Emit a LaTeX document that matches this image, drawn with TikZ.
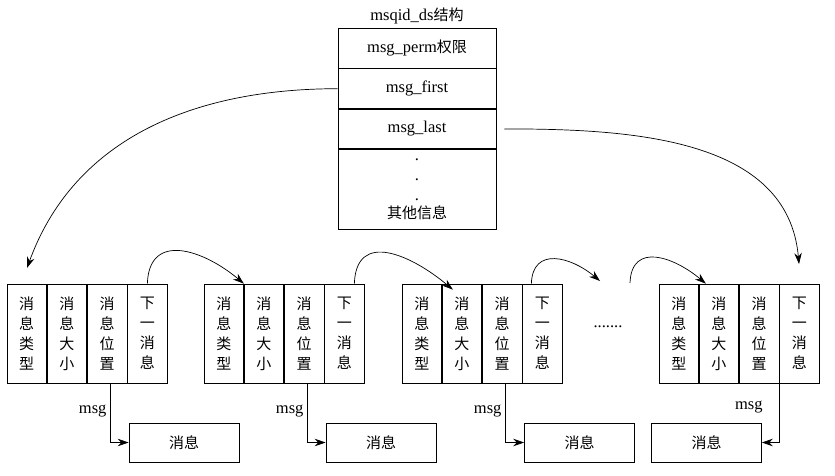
\documentclass[tikz,border=0pt]{standalone}
\usepackage{fontspec}
\setmainfont{Liberation Serif}
\newfontfamily\cjk{Noto Sans CJK SC}
\usetikzlibrary{arrows.meta, positioning}

\begin{document}
\begin{tikzpicture}[
    x=1pt, y=-1pt, line width=0.7pt,
    >={Stealth[length=11pt,width=7.5pt]},
    every node/.style={
      font=\fontsize{16.5}{20}\selectfont
    },
    field/.style={
      draw, minimum width=158pt, inner sep=0pt, align=center
    },
    cell/.style={
      draw, minimum width=39.5pt, minimum height=99pt, inner sep=0pt,
      align=center, font=\cjk\fontsize{15}{20}\selectfont
    },
    msgbox/.style={
      draw, minimum width=110pt, minimum height=39pt,
      font=\cjk\fontsize{15}{20}\selectfont
    },
    hop/.style={
      out=88, in=140, looseness=1.4
    }
    ]
  \useasboundingbox (0,0) rectangle (835,475);

  % msqid_ds
  \node[field, minimum height=40pt] (s1) at (417,48) {msg\_perm{\cjk\fontsize{15}{20}\selectfont 权限}};
  \node[field, minimum height=40pt, below=0pt of s1] (s2) {msg\_first};
  \node[field, minimum height=39pt, below=0pt of s2] (s3) {msg\_last};
  \node[field, minimum height=80pt, below=0pt of s3] (s4) {.\\.\\.\\[-2pt]{\cjk\fontsize{15}{20}\selectfont 其他信息}};
  \node[above=0pt of s1] (title) {msqid\_ds{\cjk\fontsize{15}{20}\selectfont 结构}};

  % messages
  \foreach \i/\x in {1/7, 2/204, 3/402, 4/659} {
    \node[cell] (c\i1) at (\x+19.75,333.5) {消\\息\\类\\型};
    \node[cell, right=0pt of c\i1] (c\i2) {消\\息\\大\\小};
    \node[cell, right=0pt of c\i2] (c\i3) {消\\息\\位\\置};
    \node[cell, right=0pt of c\i3] (c\i4) {下\\一\\消\\息};
  }
  \node[msgbox] (m1) at (184,442.5) {消息};
  \node[msgbox] (m2) at (381,442.5) {消息};
  \node[msgbox] (m3) at (579.5,442.5) {消息};
  \node[msgbox] (m4) at (706.5,442.5) {消息};
  \node (more) at (608,327) {.......};

  \coordinate (e1) at (27,268);
  \coordinate (e2) at (799,264);
  \coordinate (e3) at (600,281);
  \coordinate (e4) at (630,283);

  \draw[->] (s2.west) to[out=180,in=70] (e1);
  \draw[->] ([xshift=8pt]s3.east) to[out=0,in=95] (e2);

  \draw[->] (c14.north) to[hop] (c21.north east);
  \draw[->] ([xshift=10pt]c24.north) to[hop] ([xshift=11pt,yshift=-6pt]c31.north east);
  \draw[->] ([xshift=-11pt]c34.north) to[hop] (e3);
  \draw[->] (e4) to[hop] ([xshift=7pt]c41.north east);

  \draw[->] ([xshift=3pt]c13.south) |- node[pos=0.23, left] {msg} (m1);
  \draw[->] ([xshift=3pt]c23.south) |- node[pos=0.23, left] {msg} (m2);
  \draw[->] ([xshift=3pt]c33.south) |- node[pos=0.23, left] {msg} (m3);
  \draw[->] (c43.south east) |- node[pos=0.2, left=13pt] {msg} (m4);
\end{tikzpicture}
\end{document}
